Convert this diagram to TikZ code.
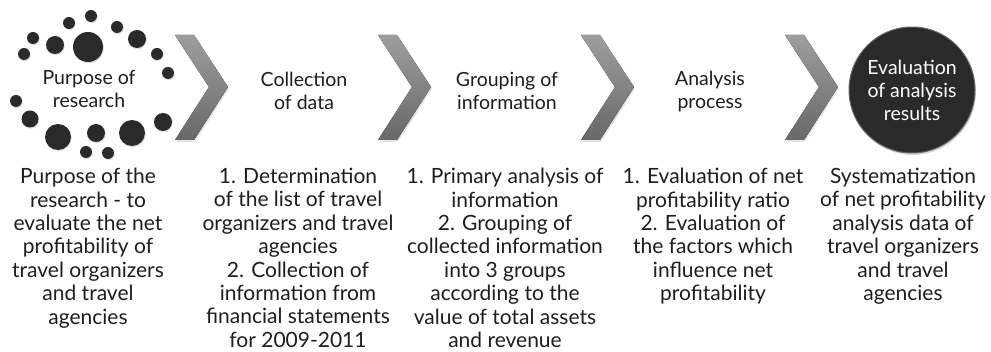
\documentclass[tikz,border=0pt]{standalone}
\usepackage{fontspec}
\setmainfont{Lato}
\usetikzlibrary{shadows}
\definecolor{dotgray}{RGB}{42,42,42}
\definecolor{chevtop}{RGB}{158,158,158}
\definecolor{chevbot}{RGB}{104,104,104}
\definecolor{txtgray}{RGB}{30,30,30}

\tikzset{
  dot/.style={fill=dotgray,drop shadow={opacity=0.25,shadow xshift=0.8pt,shadow yshift=-1.2pt}},
  chevron/.style={top color=chevtop,bottom color=chevbot,drop shadow={opacity=0.2,shadow xshift=1pt,shadow yshift=-2pt}},
  title/.style={align=center,inner sep=0pt,text=txtgray,font=\fontsize{19.5}{23}\selectfont},
  info/.style={align=center,anchor=north,inner sep=0pt,text=txtgray,font=\fontsize{21}{23.4}\selectfont}
}

\begin{document}
\begin{tikzpicture}[x=1pt,y=-1pt]
  \useasboundingbox[fill=white] (0,0) rectangle (991,352);
  % ring of dots
  \fill[dot] (88,47) circle (15);
  \fill[dot] (55,45) circle (9);
  \fill[dot] (137,39) circle (9);
  \fill[dot] (33,38) circle (6);
  \fill[dot] (24,54) circle (6);
  \fill[dot] (69,23) circle (6);
  \fill[dot] (91,16) circle (6);
  \fill[dot] (117,27) circle (6);
  \fill[dot] (157,54) circle (6);
  \fill[dot] (168,73) circle (6);
  \fill[dot] (16,101) circle (6);
  \fill[dot] (30,119) circle (8.5);
  \fill[dot] (58,137) circle (13);
  \fill[dot] (96,133) circle (9);
  \fill[dot] (132,133) circle (13);
  \fill[dot] (163,122) circle (9);
  \fill[dot] (86,152) circle (6);
  \fill[dot] (108,153) circle (6);
  \node[title] (purpose) at (89,89) {Purpose of\\research};
  % chevrons
  \fill[chevron] (175,35) -- (194,35) -- (228,87) -- (194,140) -- (175,140) -- (209,87) -- cycle;
  \fill[chevron] (378,35) -- (397,35) -- (431,87) -- (397,140) -- (378,140) -- (412,87) -- cycle;
  \fill[chevron] (581,35) -- (600,35) -- (634,87) -- (600,140) -- (581,140) -- (615,87) -- cycle;
  \fill[chevron] (785,35) -- (804,35) -- (838,87) -- (804,140) -- (785,140) -- (819,87) -- cycle;
  % steps
  \node[title] (collect) at (304,91) {Collection\\of data};
  \node[title] (group) at (507,91) {Grouping of\\information};
  \node[title] (analysis) at (710,91) {Analysis\\process};
  \node[circle,minimum size=126pt,fill=dotgray,draw=black!60,line width=1pt,
        drop shadow={opacity=0.3,shadow xshift=1pt,shadow yshift=-2pt},
        title,text=white] (result) at (912,90) {Evaluation\\of analysis\\results};
  % descriptions
  \node[info] (purposetxt) at (88,168) {Purpose of the\\research - to\\evaluate the net\\profitability of\\travel organizers\\and travel\\agencies};
  \node[info] (collecttxt) at (298,168) {1. Determination\\of the list of travel\\organizers and travel\\agencies\\2. Collection of\\information from\\financial statements\\for 2009-2011};
  \node[info] (grouptxt) at (505,168) {1. Primary analysis of\\information\\2. Grouping of\\collected information\\into 3 groups\\according to the\\value of total assets\\and revenue};
  \node[info] (analysistxt) at (713,168) {1. Evaluation of net\\profitability ratio\\2. Evaluation of\\the factors which\\influence net\\profitability};
  \node[info] (resulttxt) at (903,168) {Systematization\\of net profitability\\analysis data of\\travel organizers\\and travel\\agencies};
\end{tikzpicture}
\end{document}
